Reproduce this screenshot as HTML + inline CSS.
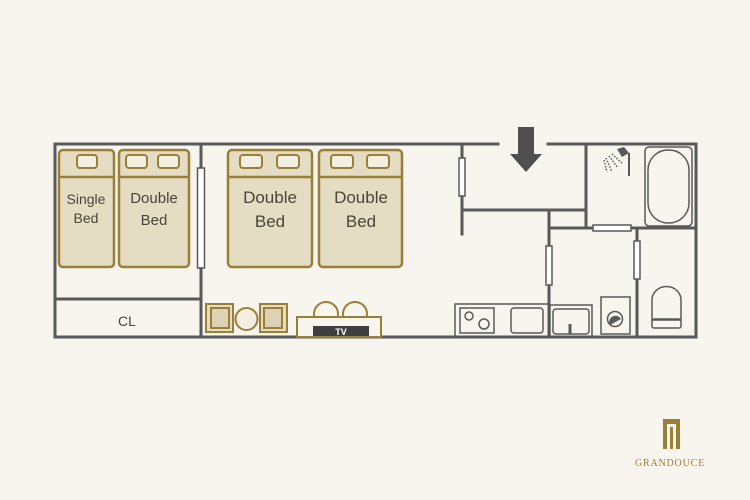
<!DOCTYPE html>
<html><head><meta charset="utf-8"><style>
html,body{margin:0;padding:0;background:#f8f5ef;}
svg{display:block}
text{font-family:"Liberation Sans",sans-serif;}
</style></head><body>
<svg width="750" height="500" viewBox="0 0 750 500" xmlns="http://www.w3.org/2000/svg">
<rect width="750" height="500" fill="#f8f5ef"/>
<g stroke="#595959" stroke-width="3" fill="none" stroke-linecap="square">
<path d="M498 144 H55 V337 H696 V144 H548"/>
<line x1="201" y1="144" x2="201" y2="337"/>
<line x1="55" y1="299" x2="201" y2="299"/>
<line x1="462" y1="144" x2="462" y2="234"/>
<line x1="462" y1="210" x2="586" y2="210"/>
<line x1="586" y1="144" x2="586" y2="228"/>
<line x1="549" y1="210" x2="549" y2="337"/>
<line x1="549" y1="228" x2="696" y2="228"/>
<line x1="637" y1="228" x2="637" y2="337"/>
</g>
<g fill="#fff" stroke="#595959" stroke-width="1.5">
<rect x="197.5" y="168" width="7" height="100"/>
<rect x="459" y="158" width="6" height="38"/>
<rect x="546" y="246" width="6" height="39"/>
<rect x="593" y="225" width="38" height="6"/>
<rect x="634" y="241" width="6" height="38"/>
</g>
<path d="M518 127 H534 V154 H542 L526 172 L510 154 H518 Z" fill="#4f4f4f"/>
<g fill="#e5dcc4" stroke="#9a7f36" stroke-width="2.5">
<rect x="59" y="150" width="55" height="117" rx="4"/>
<rect x="119" y="150" width="70" height="117" rx="4"/>
<rect x="228" y="150" width="84" height="117" rx="4"/>
<rect x="319" y="150" width="83" height="117" rx="4"/>
<line x1="59" y1="177" x2="114" y2="177"/>
<line x1="119" y1="177" x2="189" y2="177"/>
<line x1="228" y1="177" x2="312" y2="177"/>
<line x1="319" y1="177" x2="402" y2="177"/>
</g>
<g fill="#f3eee2" stroke="#9a7f36" stroke-width="2">
<rect x="77" y="155" width="20" height="13" rx="3"/>
<rect x="126" y="155" width="21" height="13" rx="3"/>
<rect x="158" y="155" width="21" height="13" rx="3"/>
<rect x="240" y="155" width="22" height="13" rx="3"/>
<rect x="277" y="155" width="22" height="13" rx="3"/>
<rect x="331" y="155" width="22" height="13" rx="3"/>
<rect x="367" y="155" width="22" height="13" rx="3"/>
</g>
<g fill="#4a4536" text-anchor="middle">
<text x="86" y="204" font-size="14">Single</text>
<text x="86" y="223" font-size="14">Bed</text>
<text x="154" y="203" font-size="15">Double</text>
<text x="154" y="225" font-size="15">Bed</text>
<text x="270" y="203" font-size="17">Double</text>
<text x="270" y="227" font-size="17">Bed</text>
<text x="361" y="203" font-size="17">Double</text>
<text x="361" y="227" font-size="17">Bed</text>
<text x="127" y="326" font-size="14">CL</text>
</g>
<g fill="#e5dcc4" stroke="#9a7f36" stroke-width="2">
<rect x="206" y="304" width="27" height="28"/>
<rect x="211" y="308" width="18" height="20" fill="#ddd2b6"/>
<rect x="260" y="304" width="27" height="28"/>
<rect x="264" y="308" width="18" height="20" fill="#ddd2b6"/>
<circle cx="246.5" cy="319" r="11" fill="#f3eee2"/>
<circle cx="326" cy="314" r="12" fill="#f8f5ef"/>
<circle cx="355" cy="314" r="12" fill="#f8f5ef"/>
<rect x="297" y="317" width="84" height="20" fill="#f8f5ef"/>
</g>
<rect x="313" y="326" width="56" height="10" fill="#3f3f3f"/>
<text x="341" y="335" font-size="9" fill="#fff" text-anchor="middle" font-weight="bold">TV</text>
<g fill="none" stroke="#595959" stroke-width="1.5">
<rect x="455" y="304" width="94" height="33"/>
<rect x="460" y="308" width="34" height="25"/>
<circle cx="469" cy="316" r="4"/><circle cx="484" cy="324" r="5"/>
<rect x="511" y="308" width="32" height="25" rx="3"/>
<rect x="550" y="305" width="42" height="32"/>
<rect x="553" y="309" width="36" height="25" rx="3"/>
<line x1="570" y1="324" x2="570" y2="334" stroke-width="3"/>
<rect x="601" y="297" width="29" height="37"/>
<circle cx="615" cy="319" r="7.5"/>
<path d="M652 320 V300 a14 13 0 0 1 29 0 V320 Z"/>
<rect x="652" y="319" width="29" height="9" rx="2"/>
<rect x="645" y="147" width="47" height="79" rx="4"/>
<rect x="648" y="150" width="41" height="73" rx="20"/>
<line x1="629" y1="153" x2="629" y2="176" stroke-width="2"/>
<path d="M606 158 L612 172 M609 156 L618 168 M612 154 L622 163 M604 160 L607 172" stroke-dasharray="1.5 1.5"/>
</g>
<path d="M610 325 a6 6 0 0 1 11 -6 z" fill="#595959"/>
<path d="M617 149 L624 147 L629 153 L622 157 Z" fill="#595959"/>
<rect x="663" y="419" width="17" height="30" fill="#9a7f36"/>
<path d="M667 424 H676 V449 H673 V427 H670 V449 H667 Z" fill="#f8f5ef"/>
<text x="670" y="466" style="font-family:'Liberation Serif',serif;font-size:10px;letter-spacing:0.8px" fill="#9a7f36" text-anchor="middle">GRANDOUCE</text>
</svg>
</body></html>
